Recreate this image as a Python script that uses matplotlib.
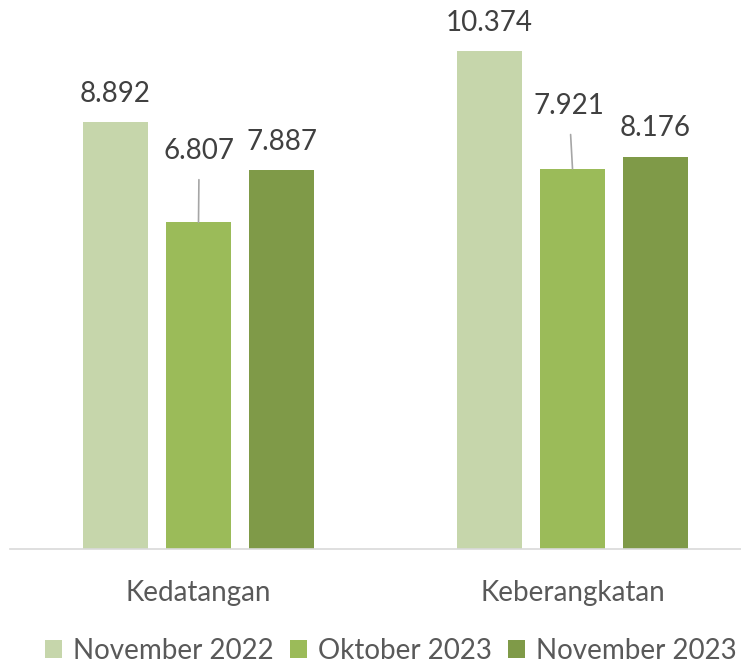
import matplotlib.pyplot as plt
import numpy as np

# --- Datos ---
kategori = ['Kedatangan', 'Keberangkatan']
periode = ['November 2022', 'Oktober 2023', 'November 2023']
nov_2022 = [8892, 10374]
okt_2023 = [6807, 7921]
nov_2023 = [7887, 8176]
warna = ['#C6D6AB', '#9BBB59', '#7F9A48']

plt.rcParams['font.family'] = ['Lato', 'DejaVu Sans']

def format_id(v):
    # pemisah ribuan gaya Indonesia
    return f'{v:,}'.replace(',', '.')

fig = plt.figure(figsize=(7.41, 6.66), dpi=100)
ax = fig.add_axes([10 / 741, 117 / 666, 731 / 741, 549 / 666])

x = np.arange(len(kategori))
lebar = 0.174
jarak = 0.222
seri = [nov_2022, okt_2023, nov_2023]

for i, (nilai, w, nama) in enumerate(zip(seri, warna, periode)):
    posisi = x + (i - 1) * jarak
    ax.bar(posisi, nilai, width=lebar, color=w, label=nama, zorder=2)
    for j, (px, v) in enumerate(zip(posisi, nilai)):
        if i == 1:
            # label tengah diangkat dengan garis penunjuk
            dx, dy = (0.5, 51) if j == 0 else (-2.5, 45)
            ax.annotate(format_id(v), xy=(px, v), xytext=(dx, dy),
                        textcoords='offset points', ha='center', va='center',
                        fontsize=20, color='#404040',
                        arrowprops=dict(arrowstyle='-', color='#A6A6A6', lw=1.2,
                                        shrinkA=9, shrinkB=0))
        else:
            ax.annotate(format_id(v), xy=(px, v), xytext=(0, 11),
                        textcoords='offset points', ha='center', va='bottom',
                        fontsize=20, color='#404040')

ax.set_xlim(-0.504, 1.4505)
ax.set_ylim(0, 11437)
ax.set_xticks(x)
ax.set_xticklabels(kategori, fontsize=20, color='#595959')
ax.tick_params(axis='x', length=0, pad=22)
ax.set_yticks([])
for s in ['top', 'right', 'left']:
    ax.spines[s].set_visible(False)
ax.spines['bottom'].set_color('#D9D9D9')
ax.spines['bottom'].set_linewidth(1.2)

fig.legend(loc='center', bbox_to_anchor=(391 / 741, 15 / 666), ncol=3, frameon=False,
           fontsize=20, labelcolor='#595959', handlelength=0.6, handleheight=0.6,
           handletextpad=0.4, columnspacing=0.6, borderaxespad=0, borderpad=0)

fig.savefig('out.png', dpi=100)
